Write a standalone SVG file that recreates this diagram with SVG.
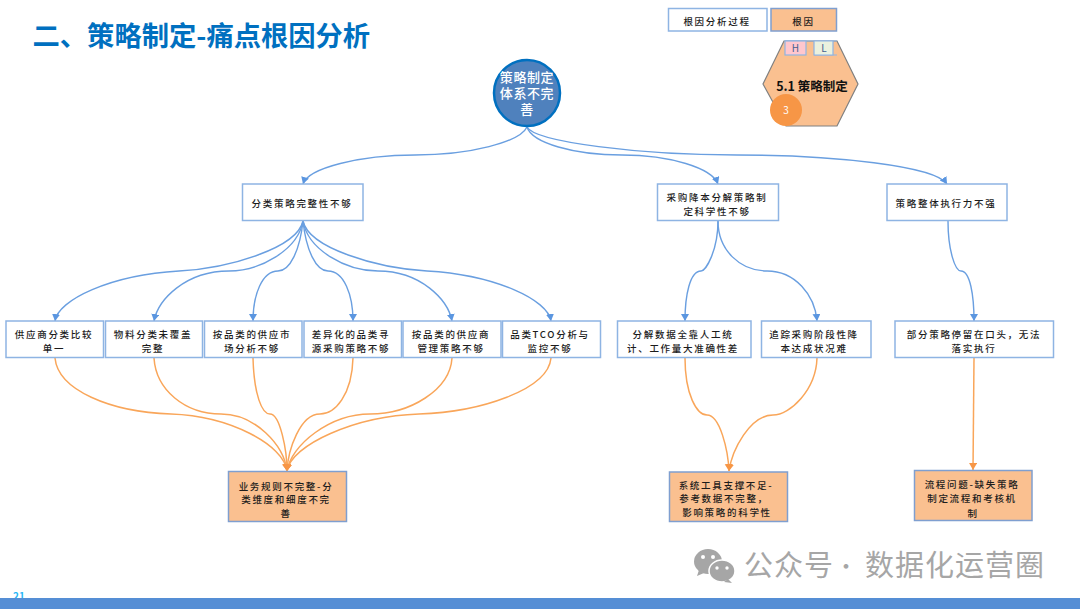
<svg xmlns="http://www.w3.org/2000/svg" width="1080" height="609" viewBox="0 0 1080 609">
<style>
text{font-family:"Noto Sans CJK SC","Noto Sans",sans-serif;text-anchor:middle}
.t{font-size:9.500px;letter-spacing:1.700px;fill:#1c1c1c;font-weight:500}
.c{font-size:13px;letter-spacing:.6px;font-weight:500;fill:#fff}
.box{fill:#fff;stroke:#8eb4e3;stroke-width:1.500}
.root{fill:#fac090;stroke:#7f9fd0;stroke-width:1.500}
.b{fill:none;stroke:#6a9fe0;stroke-width:1.400;marker-end:url(#ab)}
.o{fill:none;stroke:#f9a65a;stroke-width:1.500;marker-end:url(#ao)}
</style>
<defs>
<marker id="ab" markerUnits="userSpaceOnUse" markerWidth="9" markerHeight="9" refX="7" refY="4" orient="auto"><path d="M0 0L7 4L0 8Z" fill="#5b96e0"/></marker>
<marker id="ao" markerUnits="userSpaceOnUse" markerWidth="9" markerHeight="9" refX="7" refY="4" orient="auto"><path d="M0 0L7 4L0 8Z" fill="#f79646"/></marker>
</defs>
<rect width="1080" height="609" fill="#fff"/>
<text x="32.500" y="46" style="text-anchor:start;font-size:27.300px;font-weight:700;fill:#0070c0">二、策略制定-痛点根因分析</text>
<text x="13" y="600" style="text-anchor:start;font-size:10px;font-weight:700;fill:#29b6f6">21</text>
<rect y="598" width="1080" height="11" fill="#558ed5"/>
<g id="connectors">
<path class="b" d="M527 127C520 142 470 155 415 155C360 155 308 168 303 184"/>
<path class="b" d="M527 127C532 143 574 155 622 155C670 155 712 168 718 184"/>
<path class="b" d="M527 127C535 142 640 155 737 155C834 155 935 166 947 184"/>
<path class="b" d="M303 221C297 248 230 268 179 271C110 275 58 300 55 321"/>
<path class="b" d="M303 221C298 250 260 271 229 271C185 271 158 300 154 321"/>
<path class="b" d="M303 221C300 250 290 271 278 271C262 271 253 295 253 321"/>
<path class="b" d="M303 221C306 250 316 271 328 271C344 271 353 295 353 321"/>
<path class="b" d="M303 221C308 250 346 271 378 271C421 271 448 300 452 321"/>
<path class="b" d="M303 221C309 248 376 268 427 271C496 275 548 300 551 321"/>
<path class="b" d="M718 221C718 250 706 271 701 271C690 271 685 295 685 321"/>
<path class="b" d="M718 221C718 250 740 271 767 271C795 271 815 295 817 321"/>
<path class="b" d="M948 221C948 250 955 271 961 271C970 271 974 295 974 321"/>
<path class="o" d="M55 358C58 390 110 412 171 414C230 416 284 445 287 471"/>
<path class="o" d="M154 358C156 390 185 414 221 414C255 414 284 445 287 471"/>
<path class="o" d="M253 358C254 395 262 414 270 414C280 414 287 450 287 471"/>
<path class="o" d="M353 358C352 395 335 414 320 414C300 414 288 450 287 471"/>
<path class="o" d="M452 358C450 390 410 414 370 414C330 414 291 445 287 471"/>
<path class="o" d="M551 358C548 390 480 412 419 414C355 416 291 445 287 471"/>
<path class="o" d="M685 358C685 395 697 415 707 415C720 415 728 450 729 471"/>
<path class="o" d="M817 358C816 390 790 415 773 415C750 415 732 450 729 471"/>
<path class="o" d="M974 358L973 470"/>
</g>
<g id="legend-process"><rect class="box" x="668.500" y="8.500" width="98.500" height="22.500"/><text class="t" x="717" y="25">根因分析过程</text></g>
<g id="legend-root"><rect class="root" x="771" y="8.500" width="65.500" height="22.500"/><text class="t" x="803.500" y="25">根因</text></g>
<g id="hex">
<path d="M784 41H837L858 84L837 126H786L763 84Z" fill="#fac090" stroke="#808080" stroke-width="1.200"/>
<path d="M785 41H837M814 55H837" fill="none" stroke="#8eb4e3" stroke-width="1.200"/>
<rect x="785" y="41" width="21" height="14" fill="#ffc7ce" stroke="#8eb4e3" stroke-width="1.200"/>
<path d="M814 41V55H833V41Z" fill="#ebf1de" stroke="#8eb4e3" stroke-width="1.200"/>
<text x="795.500" y="52" style="font-size:10px;fill:#44608f">H</text>
<text x="824" y="52" style="font-size:10px;fill:#44608f">L</text>
<text x="812" y="91" style="font-size:12.500px;font-weight:700;fill:#111">5.1 策略制定</text>
<circle cx="786" cy="110" r="16" fill="#f79646"/>
<text x="786" y="114" style="font-size:10px;fill:#fff">3</text>
</g>
<g id="top"><circle cx="527" cy="93" r="33" fill="#4f81bd" stroke="#0070c0" stroke-width="2.500"/>
<text class="c"><tspan x="527" y="82">策略制定</tspan><tspan x="527" y="98">体系不完</tspan><tspan x="527" y="114">善</tspan></text></g>
<g id="n1"><rect class="box" x="242.500" y="184" width="120.500" height="36.500"/><text class="t" x="302" y="207">分类策略完整性不够</text></g>
<g id="n2"><rect class="box" x="657.500" y="184" width="121" height="36.500"/><text class="t" x="717" y="201">采购降本分解策略制</text><text class="t" x="717" y="214.500">定科学性不够</text></g>
<g id="n3"><rect class="box" x="887" y="184" width="120" height="36.500"/><text class="t" x="946" y="207">策略整体执行力不强</text></g>
<g id="a1"><rect class="box" x="6" y="321" width="97.500" height="36.500"/><text class="t" x="54" y="338">供应商分类比较</text><text class="t" x="54" y="351.500">单一</text></g>
<g id="a2"><rect class="box" x="105.500" y="321" width="97" height="36.500"/><text class="t" x="153" y="338">物料分类未覆盖</text><text class="t" x="153" y="351.500">完整</text></g>
<g id="a3"><rect class="box" x="204.500" y="321" width="97.500" height="36.500"/><text class="t" x="252" y="338">按品类的供应市</text><text class="t" x="252" y="351.500">场分析不够</text></g>
<g id="a4"><rect class="box" x="304" y="321" width="97.500" height="36.500"/><text class="t" x="351" y="338">差异化的品类寻</text><text class="t" x="351" y="351.500">源采购策略不够</text></g>
<g id="a5"><rect class="box" x="403" y="321" width="98" height="36.500"/><text class="t" x="451" y="338">按品类的供应商</text><text class="t" x="451" y="351.500">管理策略不够</text></g>
<g id="a6"><rect class="box" x="502.500" y="321" width="98" height="36.500"/><text class="t" x="550" y="338">品类TCO分析与</text><text class="t" x="550" y="351.500">监控不够</text></g>
<g id="b1"><rect class="box" x="617.500" y="321" width="133.500" height="36.500"/><text class="t" x="683" y="338">分解数据全靠人工统</text><text class="t" x="683" y="351.500">计、工作量大准确性差</text></g>
<g id="b2"><rect class="box" x="761.500" y="321" width="109.500" height="36.500"/><text class="t" x="814" y="338">追踪采购阶段性降</text><text class="t" x="814" y="351.500">本达成状况难</text></g>
<g id="c1"><rect class="box" x="895" y="321" width="158.500" height="36.500"/><text class="t" x="974" y="338">部分策略停留在口头&#xFF0C;无法</text><text class="t" x="974" y="351.500">落实执行</text></g>
<g id="r1"><rect class="root" x="228.500" y="471.500" width="118" height="50"/><text class="t" x="286" y="489.500">业务规则不完整-分</text><text class="t" x="286" y="503">类维度和细度不完</text><text class="t" x="286" y="517">善</text></g>
<g id="r2"><rect class="root" x="669.500" y="472" width="118" height="49.500"/><text class="t" x="726" y="488.500">系统工具支撑不足-</text><text class="t" x="724" y="501.500">参考数据不完整&#xFF0C;</text><text class="t" x="727" y="515.500">影响策略的科学性</text></g>
<g id="r3"><rect class="root" x="914.500" y="470.500" width="117.500" height="50"/><text class="t" x="972" y="487.500">流程问题-缺失策略</text><text class="t" x="972" y="501.500">制定流程和考核机</text><text class="t" x="973" y="516.500">制</text></g>
<g id="watermark" fill="#a6a6a6">
<ellipse cx="708" cy="561.500" rx="14" ry="12.500"/><path d="M699 570l-2 6 7-3z"/>
<ellipse cx="722" cy="571" rx="13" ry="11" stroke="#fff" stroke-width="1.500"/><path d="M728 579l4 4-8-1z"/>
<circle cx="703" cy="557" r="2" fill="#fff"/><circle cx="713" cy="557" r="2" fill="#fff"/><circle cx="717" cy="568" r="1.700" fill="#fff"/><circle cx="727" cy="568" r="1.700" fill="#fff"/>
<text x="744" y="576" style="text-anchor:start;font-size:29px;letter-spacing:1px">公众号</text>
<text x="846" y="574" style="font-size:22px">·</text>
<text x="865" y="576" style="text-anchor:start;font-size:29px;letter-spacing:1px">数据化运营圈</text>
</g>
</svg>
